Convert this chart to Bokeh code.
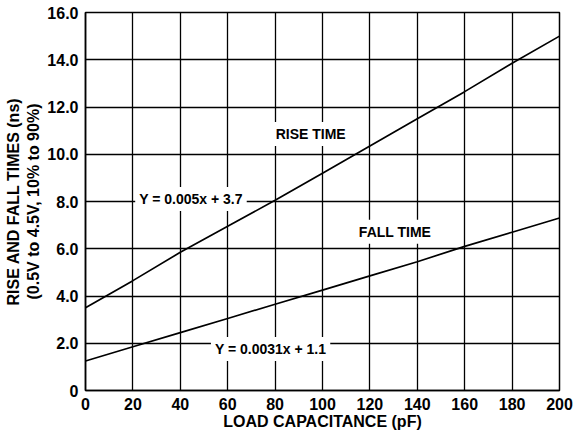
from bokeh.plotting import figure
from bokeh.models import Range1d, FixedTicker, Label
from bokeh.embed import file_html
from bokeh.resources import INLINE

# Data
cap_pf = [0, 20, 40, 60, 80, 100, 120, 140, 160, 180, 200]
rise_ns = [3.5, 4.65, 5.85, 6.95, 8.05, 9.2, 10.35, 11.5, 12.65, 13.85, 15.0]
fall_ns = [1.25, 1.85, 2.45, 3.05, 3.65, 4.25, 4.85, 5.45, 6.1, 6.7, 7.3]

x_ticks = [0, 20, 40, 60, 80, 100, 120, 140, 160, 180, 200]
y_ticks = [0, 2, 4, 6, 8, 10, 12, 14, 16]
y_tick_labels = ["0", "2.0", "4.0", "6.0", "8.0", "10.0", "12.0", "14.0", "16.0"]

FONT = "Liberation Sans"

p = figure(width=574, height=438, output_backend="svg", toolbar_location=None,
           x_range=Range1d(0, 200), y_range=Range1d(0, 16))
p.min_border_top = 12
p.min_border_right = 15
p.min_border_bottom = 48
p.min_border_left = 85

p.outline_line_color = "black"
p.outline_line_width = 1.5
p.outline_line_alpha = 1.0

for ax in (p.xaxis[0], p.yaxis[0]):
    ax.major_tick_line_color = None
    ax.minor_tick_line_color = None
    ax.major_tick_out = 0
    ax.major_tick_in = 0
    ax.minor_tick_out = 0
    ax.minor_tick_in = 0
    ax.axis_line_color = "black"
    ax.axis_line_width = 1.5
    ax.major_label_text_font = FONT
    ax.major_label_text_font_style = "bold"
    ax.major_label_text_font_size = "16px"
    ax.major_label_text_color = "black"
    ax.axis_label_text_font = FONT
    ax.axis_label_text_font_style = "bold"
    ax.axis_label_text_font_size = "16px"
    ax.axis_label_text_color = "black"

p.xaxis.ticker = FixedTicker(ticks=x_ticks)
p.yaxis.ticker = FixedTicker(ticks=y_ticks)
p.yaxis.major_label_overrides = {t: s for t, s in zip(y_ticks, y_tick_labels)}
p.xaxis.axis_label = "LOAD CAPACITANCE (pF)"
p.yaxis.axis_label = "RISE AND FALL TIMES (ns)\n(0.5V to 4.5V, 10% to 90%)"
p.xaxis.major_label_standoff = 7
p.yaxis.major_label_standoff = 7
p.xaxis.axis_label_standoff = 0
p.yaxis.axis_label_standoff = 2

p.grid.grid_line_color = "black"
p.grid.grid_line_width = 1.3
p.grid.grid_line_alpha = 1.0

p.line(cap_pf, rise_ns, line_color="black", line_width=1.7)
p.line(cap_pf, fall_ns, line_color="black", line_width=1.7)

labels = [
    ("RISE TIME", 95, 10.86),
    ("FALL TIME", 130.6, 6.72),
    ("Y = 0.005x + 3.7", 44.5, 8.11),
    ("Y = 0.0031x + 1.1", 78.1, 1.76),
]
for txt, lx, ly in labels:
    p.add_layout(Label(x=lx, y=ly, text=txt, text_align="center", text_baseline="middle",
                       text_font=FONT, text_font_style="bold", text_font_size="14px",
                       text_color="black", background_fill_color="white",
                       background_fill_alpha=1.0, padding=4))

open("out.html", "w").write(file_html(p, INLINE))
